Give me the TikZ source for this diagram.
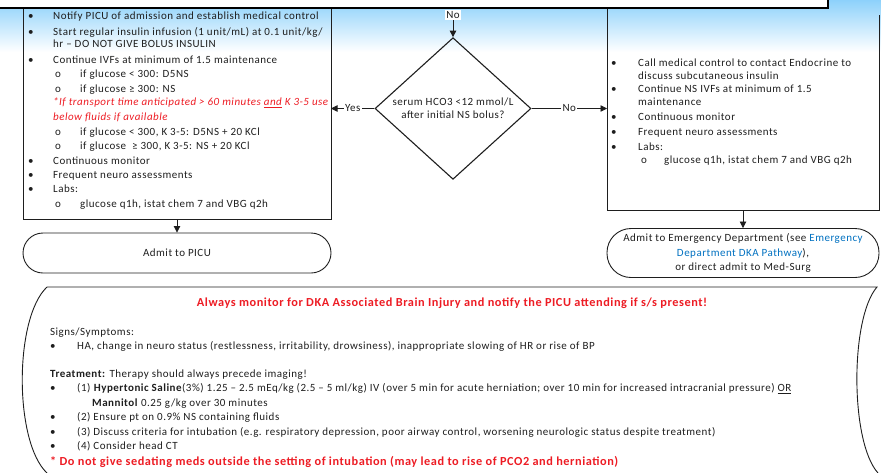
\documentclass[tikz,border=0pt]{standalone}
\usepackage{fontspec}
\setmainfont{Carlito}[LetterSpace=4.5]
\usetikzlibrary{shapes.geometric,arrows.meta,fadings,calc}
\definecolor{ink}{RGB}{30,30,30}
\definecolor{alert}{RGB}{237,28,36}
\definecolor{link}{RGB}{0,112,192}
\definecolor{sky}{RGB}{128,204,250}

% soft right-hand end of the blue header band
\begin{tikzfadingfrompicture}[name=bandfade]
  \fill[transparent!0] (-50bp,-50bp) rectangle (45bp,50bp);
  \shade[left color=transparent!0, right color=transparent!100] (45bp,-50bp) rectangle (50bp,50bp);
\end{tikzfadingfrompicture}

\newcommand{\bodyfont}{\fontsize{11}{13}\selectfont}
\newcommand{\alertfont}{\fontsize{12.3}{14}\selectfont\bfseries}

\begin{document}
\begin{tikzpicture}[x=1pt,y=-1pt,
  txt/.style={font=\bodyfont, text=ink, inner sep=0pt, anchor=base west},
  ctr/.style={txt, anchor=base},
  warn/.style={txt, text=alert},
  lab/.style={font=\bodyfont, text=ink, fill=white, inner sep=1.5pt},
  box/.style={draw=ink, line width=0.9pt},
  arr/.style={-{Triangle[length=6.5pt,width=6.5pt]}, draw=ink, line width=0.8pt},
  frame/.style={inner sep=0pt, outer sep=0pt},
  ends/.style={box, align=center, font=\fontsize{11}{14.5}\selectfont, text=ink}]
\useasboundingbox (0,0) rectangle (881,472);

% header band
\shade[top color=sky, bottom color=white, path fading=bandfade] (-10,-6) rectangle (882,52);

% outline frames of the two branches
\node[frame, minimum width=308pt, minimum height=210pt] (lbox) at (177,114) {};
\node[frame, minimum width=272pt, minimum height=201pt] (rbox) at (743,109.5) {};
\draw[box] (lbox.north west) -- (lbox.south west) -- (lbox.south east) -- (lbox.north east);
\draw[box] (rbox.north west) -- (rbox.south west) -- (rbox.south east) -- ($(rbox.north east)+(0,6)$);

% box above the band
\draw[line width=2pt, draw=black, fill=white] (-5,-5) rectangle (828,8);

% decision
\node[diamond, draw=ink, line width=1.1pt, minimum width=156pt, minimum height=117pt,
      inner sep=0pt, align=center, font=\fontsize{11}{13}\selectfont, text=ink] (dec) at (453,108.5)
      {serum HCO3 <12 mmol/L\\after initial NS bolus?};
\node[lab] (notop) at (453,15) {No};
\draw[arr] (notop.south) -- (dec.north);
\draw[arr] (dec.west) -- node[lab] (yeslab) {Yes} (dec.west -| lbox.east);
\draw[arr] (dec.east) -- node[lab] (nolab) {No} (dec.east -| rbox.west);

% left branch
\node[txt] (lb1) at (28,19.5) {•};
\node[txt] (l1) at (53,19.5) {Notify PICU of admission and establish medical control};
\node[txt] (lb2) at (28,35) {•};
\node[txt] (l2) at (53,35) {Start regular insulin infusion (1 unit/mL) at 0.1 unit/kg/};
\node[txt] (l3) at (53,47.5) {hr – DO NOT GIVE BOLUS INSULIN};
\node[txt] (lb4) at (28,63.5) {•};
\node[txt] (l4) at (53,63.5) {Continue IVFs at minimum of 1.5 maintenance};
\node[txt] (lo5) at (55,77.5) {o};
\node[txt] (l5) at (80,77.5) {if glucose < 300: D5NS};
\node[txt] (lo6) at (55,92.5) {o};
\node[txt] (l6) at (80,92.5) {if glucose ≥ 300: NS};
\node[warn] (l7) at (53,105.5) {\itshape *If transport time anticipated > 60 minutes \underline{and} K 3-5 use};
\node[warn] (l8) at (53,120) {\itshape below fluids if available};
\node[txt] (lo9) at (55,135) {o};
\node[txt] (l9) at (80,135) {if glucose < 300, K 3-5: D5NS + 20 KCl};
\node[txt] (lo10) at (55,149.5) {o};
\node[txt] (l10) at (80,149.5) {if glucose \ ≥ 300, K 3-5: NS + 20 KCl};
\node[txt] (lb11) at (28,164.5) {•};
\node[txt] (l11) at (53,164.5) {Continuous monitor};
\node[txt] (lb12) at (28,178.5) {•};
\node[txt] (l12) at (53,178.5) {Frequent neuro assessments};
\node[txt] (lb13) at (28,192.5) {•};
\node[txt] (l13) at (53,192.5) {Labs:};
\node[txt] (lo14) at (55,207.5) {o};
\node[txt] (l14) at (80,207.5) {glucose q1h, istat chem 7 and VBG q2h};

% right branch
\node[txt] (rb1) at (611,66.5) {•};
\node[txt] (r1) at (638,66.5) {Call medical control to contact Endocrine to};
\node[txt] (r2) at (638,79) {discuss subcutaneous insulin};
\node[txt] (rb3) at (611,92.5) {•};
\node[txt] (r3) at (638,92.5) {Continue NS IVFs at minimum of 1.5};
\node[txt] (r4) at (638,105) {maintenance};
\node[txt] (rb5) at (611,120.5) {•};
\node[txt] (r5) at (638,120.5) {Continuous monitor};
\node[txt] (rb6) at (611,135.5) {•};
\node[txt] (r6) at (638,135.5) {Frequent neuro assessments};
\node[txt] (rb7) at (611,150) {•};
\node[txt] (r7) at (638,150) {Labs:};
\node[txt] (ro8) at (641,163.5) {o};
\node[txt] (r8) at (664,163.5) {glucose q1h, istat chem 7 and VBG q2h};

% terminals
\node[ends, rounded corners=20pt, minimum width=308pt, minimum height=40pt] (picu) at (177,253) {Admit to PICU};
\node[ends, rounded corners=24pt, minimum width=272pt, minimum height=49pt, inner sep=1pt] (edadmit) at (743,253)
  {Admit to Emergency Department (see \textcolor{link}{Emergency}\\
   \textcolor{link}{Department DKA Pathway}),\\
   or direct admit to Med-Surg};
\draw[arr] (lbox.south) -- (picu.north);
\draw[arr] (rbox.south) -- (edadmit.north);

% brain injury panel
\draw[box] (47,287) -- (877,287) .. controls (850,318) and (850,442) .. (878,473);
\draw[box] (47,287) .. controls (14,318) and (14,442) .. (47,473);

\node[ctr, text=alert, font=\alertfont] (title) at (452,306)
  {Always monitor for DKA Associated Brain Injury and notify the PICU attending if s/s present!};
\node[txt] (s0) at (50,335.5) {Signs/Symptoms:};
\node[txt] (sb1) at (50,349) {•};
\node[txt] (s1) at (77,349) {HA, change in neuro status (restlessness, irritability, drowsiness), inappropriate slowing of HR or rise of BP};
\node[txt] (t0) at (50,377.5) {\textbf{Treatment:} Therapy should always precede imaging!};
\node[txt] (tb1) at (50,391.5) {•};
\node[txt] (t1) at (77,391.5) {(1) \textbf{Hypertonic Saline}(3\%) 1.25 – 2.5 mEq/kg (2.5 – 5 ml/kg) IV (over 5 min for acute herniation; over 10 min for increased intracranial pressure) \underline{OR}};
\node[txt] (t1b) at (92,406) {\textbf{Mannitol} 0.25 g/kg over 30 minutes};
\node[txt] (tb2) at (50,420.5) {•};
\node[txt] (t2) at (77,420.5) {(2) Ensure pt on 0.9\% NS containing fluids};
\node[txt] (tb3) at (50,435.5) {•};
\node[txt] (t3) at (77,435.5) {(3) Discuss criteria for intubation (e.g. respiratory depression, poor airway control, worsening neurologic status despite treatment)};
\node[txt] (tb4) at (50,449.5) {•};
\node[txt] (t4) at (77,449.5) {(4) Consider head CT};
\node[warn, font=\alertfont] (t5) at (50,465)
  {* Do not give sedating meds outside the setting of intubation (may lead to rise of PCO2 and herniation)};
\end{tikzpicture}
\end{document}
